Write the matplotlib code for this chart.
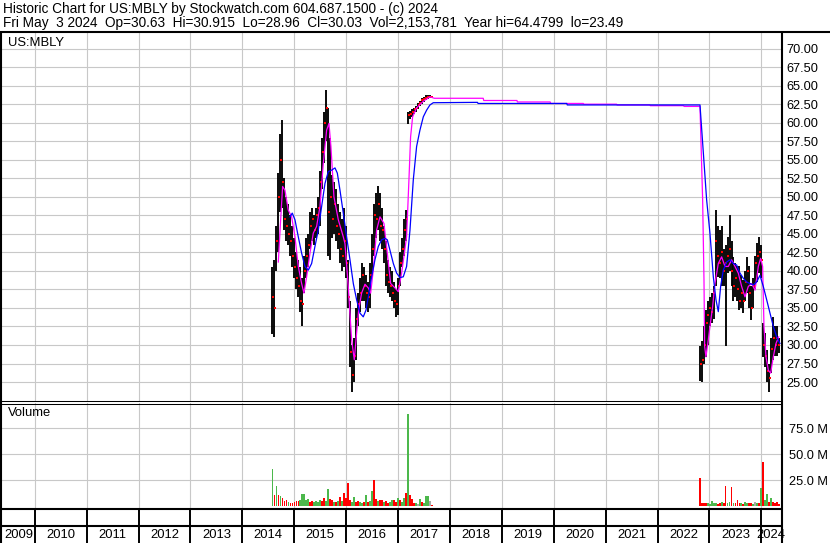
import numpy as np
import matplotlib
matplotlib.use("Agg")
import matplotlib.pyplot as plt

plt.rcParams['font.family'] = ['Liberation Sans', 'DejaVu Sans']

W, H = 830, 543
X0, X1 = 2009.368, 2024.378

title1 = "Historic Chart for US:MBLY by Stockwatch.com 604.687.1500 - (c) 2024"
title2 = "Fri May  3 2024  Op=30.63  Hi=30.915  Lo=28.96  Cl=30.03  Vol=2,153,781  Year hi=64.4799  lo=23.49"

# first listing, bi-weekly bars Aug 2014 .. Aug 2017
a_start, a_end = 2014.58, 2017.65
a_hi = [40.5, 41.5, 46.0, 53.2, 58.5, 60.4, 52.5, 50.0, 49.0, 47.5,
        46.0, 44.5, 42.5, 41.5, 40.5, 39.0, 42.0, 44.5, 45.0, 48.0,
        48.5, 47.5, 48.5, 50.0, 53.5, 58.0, 61.5, 64.4, 62.0, 58.0,
        53.0, 52.0, 51.0, 49.0, 48.0, 47.0, 48.5, 46.0, 41.5, 36.0,
        30.0, 31.0, 35.0, 37.0, 39.0, 41.0, 40.5, 39.5, 38.5, 41.0,
        45.0, 49.0, 50.5, 51.4, 50.5, 48.5, 46.0, 44.0, 41.5, 40.5,
        40.0, 38.5, 37.5, 39.0, 42.5, 44.5, 47.0, 48.2, 61.5, 61.6,
        61.8, 62.0, 62.2, 62.6, 62.9, 63.3, 63.5, 63.7, 63.8, 63.7,
        63.6]
a_lo = [31.5, 31.1, 40.0, 42.5, 48.0, 48.5, 45.5, 44.0, 43.5, 42.0,
        40.5, 39.0, 37.5, 36.5, 34.5, 32.5, 37.0, 39.0, 40.5, 43.0,
        44.0, 43.5, 44.5, 45.0, 46.0, 51.0, 54.5, 57.5, 42.0, 41.5,
        44.5, 45.0, 44.0, 43.0, 41.0, 40.0, 40.5, 39.0, 35.0, 27.0,
        23.7, 25.0, 28.0, 32.5, 34.5, 36.0, 36.0, 35.0, 34.5, 35.0,
        39.0, 42.0, 44.5, 45.5, 44.0, 43.0, 41.0, 38.0, 37.0, 36.5,
        36.0, 35.0, 33.8, 34.0, 38.0, 40.5, 42.0, 44.0, 59.8, 60.5,
        60.8, 61.2, 61.5, 61.8, 62.2, 62.5, 62.8, 63.1, 63.2, 63.3,
        63.3]
a_cl = [36.5, 35.0, 44.0, 50.0, 55.0, 52.0, 47.0, 46.0, 45.0, 44.0,
        42.0, 40.5, 39.0, 38.0, 36.0, 35.5, 40.0, 42.0, 43.5, 46.0,
        47.0, 45.5, 47.5, 48.5, 52.0, 56.0, 60.0, 62.0, 48.0, 50.0,
        47.0, 49.0, 46.0, 45.0, 43.0, 42.0, 44.0, 41.0, 36.5, 29.0,
        26.0, 28.5, 33.5, 35.5, 37.0, 39.5, 38.0, 37.0, 36.5, 39.5,
        43.0, 47.5, 47.0, 49.0, 46.0, 45.5, 43.0, 39.5, 38.5, 38.0,
        37.0, 36.0, 35.5, 38.0, 41.0, 43.0, 45.5, 47.0, 61.0, 61.2,
        61.5, 61.8, 62.0, 62.4, 62.7, 63.0, 63.2, 63.4, 63.5, 63.5,
        63.5]
a_vol = [35.9, 11.0, 19.5, 11.0, 10.0, 7.7, 5.0, 6.0, 4.5, 3.5,
         3.0, 4.0, 5.5, 5.0, 6.5, 11.8, 12.3, 6.0, 6.8, 4.5,
         5.0, 4.0, 5.0, 4.5, 6.0, 5.0, 7.7, 5.0, 16.6, 7.0,
         6.0, 4.0, 4.5, 5.0, 8.6, 5.0, 13.0, 8.0, 22.7, 6.0,
         4.0, 9.0, 4.0, 5.5, 4.0, 3.5, 4.0, 10.5, 4.0, 5.0,
         14.3, 25.3, 7.0, 5.0, 6.0, 6.5, 4.0, 5.5, 3.5, 4.0,
         6.5, 6.0, 4.5, 7.7, 6.0, 4.0, 7.5, 13.0, 89.0, 11.0,
         7.0, 3.0, 3.5, 2.5, 7.0, 4.0, 3.0, 9.5, 9.5, 5.3,
         1.5]
a_col = "grgrgrrrgr" "rrrrgggggr" "rggggrrggr" "rgrgrgrrrr" "ggrrggrgrg" \
        "grrgrrgrrg" "grrgrggrgr" "rrgngrgggn" "r"

# relisting, Oct 2022 .. May 2024
b_start, b_end = 2022.817, 2024.336
b_hi = [29.8, 30.5, 32.5, 34.7, 36.0, 36.5, 37.0, 38.0, 48.2, 46.0,
        45.5, 46.0, 43.0, 43.5, 44.6, 47.5, 44.0, 41.9, 41.0, 40.6,
        40.6, 39.5, 38.8, 40.0, 41.9, 40.6, 38.0, 39.0, 42.0, 43.7,
        44.6, 43.5, 33.0, 31.6, 29.3, 27.5, 31.0, 33.8, 32.5, 32.5,
        30.915]
b_lo = [25.2, 25.0, 27.5, 28.4, 30.0, 32.5, 33.0, 33.5, 38.0, 39.2,
        39.0, 38.0, 38.0, 29.8, 39.7, 40.0, 38.0, 36.0, 36.5, 36.0,
        34.7, 35.0, 34.3, 36.0, 37.0, 35.0, 33.4, 35.0, 37.5, 38.5,
        39.7, 39.0, 28.4, 27.0, 25.0, 23.7, 26.2, 28.0, 28.5, 28.5,
        28.96]
b_cl = [27.5, 28.0, 30.0, 33.0, 34.0, 35.0, 34.5, 37.0, 44.0, 42.0,
        41.0, 42.5, 40.0, 41.0, 42.0, 43.0, 40.0, 38.0, 39.0, 37.5,
        36.0, 37.0, 36.0, 38.5, 40.0, 37.0, 35.0, 38.0, 41.0, 42.0,
        42.5, 41.5, 30.0, 28.5, 26.5, 25.5, 29.5, 31.0, 30.0, 31.0,
        30.03]
b_vol = [27.5, 3.0, 3.5, 3.0, 3.5, 2.5, 5.4, 3.0, 3.5, 2.5,
         3.0, 4.0, 3.0, 19.8, 3.5, 4.0, 18.8, 3.0, 3.5, 6.0,
         3.0, 3.0, 2.5, 4.5, 3.5, 3.5, 3.0, 2.5, 4.5, 3.0,
         3.5, 17.9, 42.9, 6.4, 11.8, 4.5, 8.0, 4.0, 3.0, 4.5,
         2.5]
b_col = "rrrrgggggr" "rgrrggrgrr" "rgrggrrgng" "rgrggrgrrr" "r"

# moving averages
mag_t = [2014.692, 2014.737, 2014.775, 2014.820, 2014.884, 2014.949, 2015.013, 2015.077, 2015.141, 2015.186,
         2015.238, 2015.302, 2015.366, 2015.430, 2015.495, 2015.559, 2015.623, 2015.668, 2015.706, 2015.764,
         2015.848, 2015.944, 2015.976, 2016.040, 2016.105, 2016.156, 2016.201, 2016.240, 2016.297, 2016.362,
         2016.426, 2016.471, 2016.522, 2016.586, 2016.651, 2016.728, 2016.792, 2016.856, 2016.940, 2017.004,
         2017.068, 2017.164, 2017.209, 2017.241, 2017.280, 2017.357, 2017.486, 2017.614, 2017.700,
         2018.64, 2018.65, 2019.29, 2019.30, 2019.93, 2019.94, 2020.57, 2020.58, 2021.21, 2021.22,
         2021.85, 2021.86, 2022.50, 2022.51, 2022.817,
         2022.868, 2022.894, 2022.907, 2022.932, 2022.977, 2023.009, 2023.061, 2023.106, 2023.170, 2023.234,
         2023.299, 2023.363, 2023.427, 2023.491, 2023.555, 2023.620, 2023.684, 2023.748, 2023.812, 2023.877,
         2023.941, 2023.986, 2024.024, 2024.050, 2024.089, 2024.134, 2024.179, 2024.230, 2024.281, 2024.333]
mag_p = [41.2, 46.9, 51.4, 50.9, 48.2, 47.3, 44.6, 40.6, 38.3, 37.0,
         39.2, 42.4, 45.1, 46.0, 48.7, 54.5, 59.0, 59.9, 56.8, 50.0,
         46.9, 44.6, 43.7, 37.9, 30.7, 28.0, 31.6, 34.7, 37.0, 38.2,
         37.7, 37.0, 40.1, 45.5, 47.3, 46.4, 42.4, 38.3, 37.7, 37.2,
         39.7, 44.6, 52.3, 58.1, 60.8, 62.0, 62.9, 63.5, 63.3,
         63.3, 63.0, 63.0, 62.8, 62.8, 62.6, 62.6, 62.5, 62.5, 62.4,
         62.4, 62.3, 62.3, 62.2, 62.2,
         49.6, 38.8, 29.8, 28.4, 30.7, 32.5, 35.2, 38.3, 41.0, 41.9,
         40.6, 40.6, 41.5, 40.6, 39.7, 37.9, 36.5, 37.9, 38.3, 37.4,
         40.6, 41.7, 40.6, 32.5, 28.4, 26.6, 26.2, 28.4, 30.2, 31.1]

blue_t = [2014.917, 2014.961, 2015.013, 2015.077, 2015.141, 2015.206, 2015.270, 2015.334, 2015.398, 2015.462,
          2015.527, 2015.591, 2015.655, 2015.719, 2015.784, 2015.829, 2015.880, 2015.944, 2016.008, 2016.073,
          2016.137, 2016.201, 2016.265, 2016.329, 2016.381, 2016.426, 2016.490, 2016.554, 2016.619, 2016.683,
          2016.747, 2016.792, 2016.843, 2016.908, 2016.972, 2017.036, 2017.100, 2017.164, 2017.229, 2017.293,
          2017.357, 2017.421, 2017.486, 2017.550, 2017.614, 2017.678,
          2018.53, 2018.54, 2020.25, 2020.26, 2022.817,
          2022.945, 2023.009, 2023.074, 2023.125, 2023.170, 2023.215, 2023.266, 2023.331, 2023.395, 2023.459,
          2023.523, 2023.588, 2023.652, 2023.716, 2023.780, 2023.845, 2023.909, 2023.973, 2024.037, 2024.102,
          2024.166, 2024.230, 2024.294, 2024.358]
blue_p = [47.3, 47.8, 46.9, 44.6, 42.4, 40.6, 40.1, 41.0, 43.3, 45.5,
          48.7, 51.8, 53.4, 53.6, 53.9, 53.2, 50.9, 47.8, 44.6, 41.5,
          38.3, 36.1, 34.3, 33.8, 34.7, 36.5, 39.2, 41.5, 43.3, 44.2,
          44.4, 44.2, 42.8, 41.0, 39.7, 39.1, 39.2, 40.6, 45.5, 52.3,
          56.8, 59.0, 60.8, 61.7, 62.4, 62.7,
          62.75, 62.6, 62.6, 62.4, 62.4,
          49.6, 45.1, 39.2, 36.1, 34.5, 37.9, 40.1, 41.2, 41.5, 41.0,
          40.8, 39.7, 39.0, 38.5, 38.3, 38.1, 38.5, 39.4, 37.9, 36.1,
          34.3, 32.5, 31.1, 30.2]

price_ticks = np.arange(25, 70.01, 2.5)
vol_ticks = [25, 50, 75]
years = list(range(2009, 2025))

vol_colors = {'g': '#4cb84c', 'r': '#ff0000', 'n': '#a8a8a8'}
grid_c = '#c8c8c8'


def frac(x0, y0, x1, y1):
    return [x0 / W, 1 - y1 / H, (x1 - x0) / W, (y1 - y0) / H]


fig = plt.figure(figsize=(W / 100, H / 100), dpi=100)
ax = fig.add_axes(frac(2, 33, 781, 401))
axv = fig.add_axes(frac(2, 403, 781, 509))
axs = fig.add_axes(frac(2, 509, 781, 543))

for a in (ax, axv, axs):
    a.set_xlim(X0, X1)
    for s in a.spines.values():
        s.set_visible(False)
    a.set_xticks(years[1:])
    a.tick_params(axis='x', length=0, labelbottom=False)

# price panel
for t0, t1, hi, lo, cl in [(a_start, a_end, a_hi, a_lo, a_cl), (b_start, b_end, b_hi, b_lo, b_cl)]:
    t = np.linspace(t0, t1, len(hi))
    ax.vlines(t, lo, hi, color='black', lw=1.35, zorder=2)
    ax.scatter(t + 0.012, cl, s=3, marker='s', color='red', lw=0, zorder=3)
ax.plot(mag_t, mag_p, color='#ff00ff', lw=0.9, zorder=4)
ax.plot(blue_t, blue_p, color='#0000ff', lw=0.9, zorder=4)
ax.set_ylim(22.44, 72.11)
ax.set_yticks(price_ticks)
ax.set_yticklabels([f"{v:.2f}" for v in price_ticks])
ax.grid(color=grid_c, lw=0.8)
ax.set_axisbelow(True)
ax.tick_params(axis='y', left=False, labelleft=False, right=False, labelright=True,
               length=0, pad=4, labelsize=9.2)

# volume panel
for t0, t1, vol, col in [(a_start, a_end, a_vol, a_col), (b_start, b_end, b_vol, b_col)]:
    t = np.linspace(t0, t1, len(vol))
    axv.bar(t, vol, width=0.034, color=[vol_colors[c] for c in col], lw=0, zorder=2)
axv.set_ylim(-2.6, 99.3)
axv.set_yticks(vol_ticks)
axv.set_yticklabels([f"{v:.1f} M" for v in vol_ticks])
axv.grid(color=grid_c, lw=0.8)
axv.set_axisbelow(True)
axv.tick_params(axis='y', left=False, labelleft=False, right=False, labelright=True,
                length=0, pad=6, labelsize=9.2)

# year strip
axs.set_ylim(34, 0)
axs.set_yticks([])
axs.vlines(years[1:], 0, 34, color='black', lw=1.4)
for y in years:
    lo, hi = max(y, X0), min(y + 1, X1)
    axs.text((lo + hi) / 2, 26, str(y), ha='center', va='center', fontsize=9.4)

# frame and header in pixel coordinates
ov = fig.add_axes([0, 0, 1, 1])
ov.set_xlim(0, W)
ov.set_ylim(H, 0)
ov.axis('off')
k = dict(color='black', solid_capstyle='butt', clip_on=False)
ov.plot([0, W], [32, 32], lw=1.5, **k)
ov.plot([1, 1], [32, H], lw=1.5, **k)
ov.plot([782, 782], [32, H], lw=1.5, **k)
ov.plot([0, 782], [401, 401], lw=0.75, **k)
ov.plot([0, 782], [403.5, 403.5], lw=0.75, **k)
ov.plot([0, 782], [509, 509], lw=1.5, **k)
ov.plot([0, 782], [526, 526], lw=1.5, **k)
ov.text(3, 9, title1, va='center', fontsize=9.8)
ov.text(3, 23, title2, va='center', fontsize=9.8)
ov.text(8, 43, "US:MBLY", va='center', fontsize=9.4)
ov.text(8, 413, "Volume", va='center', fontsize=9.4)

fig.savefig("out.png", dpi=100)
